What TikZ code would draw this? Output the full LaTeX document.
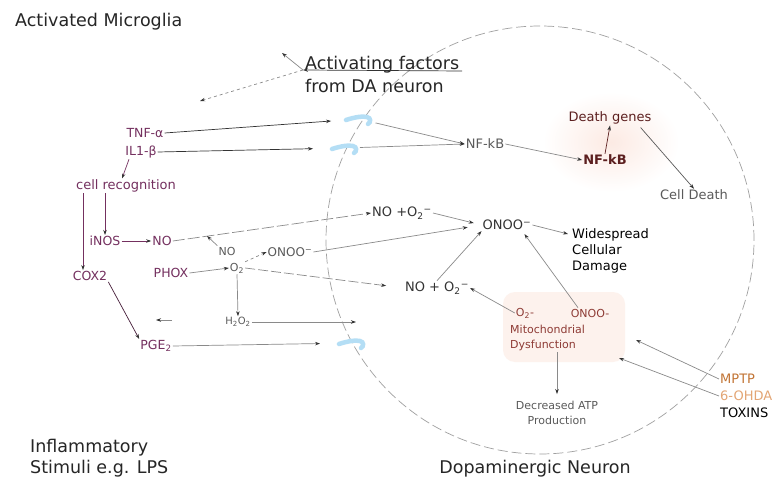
\documentclass[tikz,border=0pt]{standalone}
\usepackage{fontspec}
\setmainfont{DejaVu Sans}
\usetikzlibrary{arrows.meta,calc}
\definecolor{purp}{HTML}{74305F}
\definecolor{lgray}{HTML}{8A8A8A}
\definecolor{cgray}{HTML}{A0A0A0}
\definecolor{dgray}{HTML}{333333}
\definecolor{mgray}{HTML}{5A5A5A}
\definecolor{dred}{HTML}{5C1F1F}
\definecolor{mred}{HTML}{8E3B35}
\definecolor{orng}{HTML}{C27434}
\definecolor{lorng}{HTML}{E3A574}
\definecolor{recblue}{HTML}{B4DEF5}
\definecolor{glowpink}{HTML}{FCEAE3}
\definecolor{glowbeige}{HTML}{FDF2ED}
\begin{document}
\begin{tikzpicture}[x=1pt,y=-1pt,
  big/.style={font=\fontsize{17.5}{23}\selectfont, inner sep=0pt, align=left, text=black!85},
  bigb/.style={font=\fontsize{17.5}{21}\selectfont, inner sep=0pt, align=left, text=black!85},
  pu/.style={font=\fontsize{12.5}{15}\selectfont, text=purp, inner sep=1pt},
  sm/.style={font=\fontsize{11}{15}\selectfont, text=mgray, inner sep=1pt},
  md/.style={font=\fontsize{13}{16}\selectfont, text=dgray, inner sep=1pt},
  mi/.style={font=\fontsize{11}{15}\selectfont, text=mred, inner sep=1pt, align=left},
  arr/.style={draw=lgray, line width=0.7pt, -{Stealth[length=5pt,width=3.5pt,color=black!80]}},
  parr/.style={arr, draw=purp},
  receptor/.pic={\draw[recblue, line width=4.5pt, line cap=round] (-13,1) .. controls (-4,-2) and (4,-3) .. (8,-2) .. controls (12,-1) and (12,3) .. (9,5);}
]
\useasboundingbox (0,0) rectangle (776,481);
\fill[white] (0,0) rectangle (776,481);

% glows
\shade[inner color=glowpink, outer color=white] (611,142) ellipse [x radius=68pt, y radius=50pt];
\fill[glowbeige, rounded corners=12pt] (503,292) rectangle (625,362);

% neuron outline
\draw[cgray, dash pattern=on 10pt off 4pt, line width=0.7pt] (540,240) circle [radius=214pt];

% receptors
\coordinate (r1) at (359,119);
\coordinate (r2) at (345,148);
\coordinate (r3) at (352,343);
\pic at (r1) {receptor};
\pic at (r2) {receptor};
\pic at (r3) {receptor};

% titles
\node[big, anchor=west] (microglia) at (15,22) {Activated Microglia};
\node[big, anchor=west] (activ) at (305,74) {Activating factors\\from DA neuron};
\node[bigb, anchor=west] (inflam) at (30,458) {Inflammatory\\Stimuli e.g. LPS};
\node[big] (dopa) at (535,469) {Dopaminergic Neuron};

% microglia side
\node[pu] (tnf) at (145,133) {TNF-α};
\node[pu] (il1) at (141,152) {IL1-β};
\node[pu, font=\fontsize{13}{15}\selectfont] (cellrec) at (126,186) {cell recognition};
\node[pu] (inos) at (105,241) {iNOS};
\node[pu] (no) at (162,241) {NO};
\node[pu] (cox2) at (90,276) {COX2};
\node[pu] (phox) at (171,273) {PHOX};
\node[pu] (pge2) at (156,346) {PGE\textsubscript{2}};
\node[sm] (nos) at (227,251) {NO};
\node[sm] (o2s) at (237,268) {O\textsubscript{2}};
\node[sm, font=\fontsize{12}{15}\selectfont] (onoos) at (290,252) {ONOO\textsuperscript{−}};
\node[sm, font=\fontsize{10}{12}\selectfont] (h2o2) at (238,322) {H\textsubscript{2}O\textsubscript{2}};

% neuron side
\node[md] (noo2top) at (402,213) {NO +O\textsubscript{2}\textsuperscript{−}};
\node[md] (onooc) at (507,225) {ONOO\textsuperscript{−}};
\node[md] (noo2bot) at (437,288) {NO + O\textsubscript{2}\textsuperscript{−}};
\node[md, text=mgray] (nfkb1) at (485,144) {NF-kB};
\node[md, text=dred, font=\fontsize{13}{16}\selectfont\bfseries] (nfkb2) at (605,160) {NF-kB};
\node[md, text=dred] (deathg) at (610,118) {Death genes};
\node[md, text=mgray] (celldeath) at (694,195) {Cell Death};
\node[md, text=black, align=left, anchor=north west] (wide) at (571,227) {Widespread\\Cellular\\Damage};
\node[mi] (o2m) at (525,313) {O\textsubscript{2}-};
\node[mi] (onoom) at (590,313) {ONOO-};
\node[mi, anchor=west] (mito) at (509,338) {Mitochondrial\\Dysfunction};
\node[sm, align=center] (atp) at (557,413) {Decreased ATP\\Production};
\node[md, text=orng, anchor=west] (mptp) at (719,379) {MPTP};
\node[md, text=lorng, anchor=west] (ohda) at (719,396) {6-OHDA};
\node[md, text=black, anchor=west] (toxins) at (719,413) {TOXINS};

% activating factors connectors
\coordinate (af1) at (303,70);
\coordinate (af3) at (462,71);
\coordinate (af4) at (282,53);
\coordinate (af5) at (200,101);
\draw[arr, draw=dgray] (af3) -- (af1);
\draw[arr] (af1) -- (af4);
\draw[arr, dashed] (af1) -- (af5);

% microglia connectors
\draw[arr, draw=dgray, shorten >=28pt] (tnf.east) -- (r1);
\draw[arr, draw=dgray, shorten >=32pt] (il1.east) -- (r2);
\draw[parr] ($(il1.south)+(-12,0)$) -- ($(cellrec.north)+(-4,0)$);
\draw[parr] (cellrec.south -| inos.north) -- (inos.north);
\draw[parr] ($(cellrec.south)+(-43,0)$) -- ($(cox2.north)+(-7,0)$);
\draw[parr] (inos.east) -- (no.west);
\draw[arr, dash pattern=on 12pt off 3pt] (no.east) -- (noo2top.west);
\coordinate (j1) at (207,236);
\draw[arr] (nos.north west) -- (j1);
\draw[arr] (phox.east) -- (o2s.west);
\draw[arr, dashed] (o2s.north east) -- (onoos.west);
\draw[arr, shorten >=14pt] (onoos.east) -- (onooc.west);
\draw[arr, dash pattern=on 10pt off 3pt, shorten >=18pt] (o2s.east) -- (noo2bot.west);
\draw[arr] (o2s.south) -- (h2o2.north);
\coordinate (h2end) at (356,322);
\draw[arr] (h2o2.east) -- (h2end);
\coordinate (la1) at (172,320);
\coordinate (la2) at (156,320);
\draw[arr] (la1) -- (la2);
\draw[arr, draw=purp!60!black] (cox2.south east) -- (pge2.north west);
\draw[arr, shorten >=32pt] (pge2.east) -- (r3);

% neuron connectors
\draw[arr, shorten <=17pt] (r1) -- (nfkb1.west);
\draw[arr, shorten <=15pt] (r2) -- (nfkb1.west);
\draw[arr] (nfkb1.east) -- (nfkb2.west);
\draw[arr, draw=dred] (nfkb2.north) -- (deathg.south);
\draw[arr, draw=mgray] ($(deathg.south east)+(-12,2)$) -- (celldeath.north);
\draw[arr, shorten >=8pt] (noo2top.east) -- (onooc.west);
\draw[arr] (onooc.east) -- ($(wide.north west)+(-3,7)$);
\draw[arr] (noo2bot.north) -- (onooc.south west);
\draw[arr] ($(onoom.north)+(-12,0)$) -- ($(onooc.south east)+(-8,3)$);
\draw[arr] (o2m.west) -- (noo2bot.east);
\draw[arr, shorten >=6pt] (mito.south -| atp.north) -- (atp.north);
\coordinate (m1) at (636,340);
\coordinate (m2) at (619,358);
\draw[arr] (mptp.west) -- (m1);
\draw[arr] (ohda.west) -- (m2);
\end{tikzpicture}
\end{document}
